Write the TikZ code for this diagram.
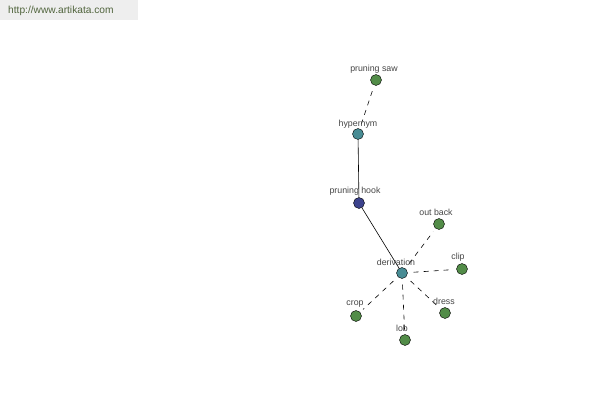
\documentclass[tikz,border=0pt]{standalone}
\usepackage{fontspec}
\setmainfont{Liberation Sans}
\definecolor{ngreen}{RGB}{82,140,72}
\definecolor{nteal}{RGB}{72,140,148}
\definecolor{nblue}{RGB}{60,66,140}
\definecolor{ltext}{RGB}{70,70,70}
\definecolor{hdrbg}{RGB}{238,238,238}
\definecolor{hdrtext}{RGB}{80,100,60}
\tikzset{
  dot/.style={circle,draw=black,line width=0.4pt,minimum size=11pt,inner sep=0pt},
  lbl/.style={font=\fontsize{8.8}{10}\selectfont,text=ltext,inner sep=0pt},
  solidlink/.style={draw=black,line width=0.6pt},
  dashlink/.style={draw=black,line width=0.6pt,dash pattern=on 5pt off 5pt,shorten <=6pt,shorten >=4pt}
}
\begin{document}
\begin{tikzpicture}[x=1pt,y=-1pt]
\useasboundingbox[fill=white] (0,0) rectangle (600,400);
\fill[hdrbg] (0,0) rectangle (138,20);
\node[font=\fontsize{10.2}{11}\selectfont,text=hdrtext,anchor=west,inner sep=0pt] (hdr) at (8,11) {http://www.artikata.com};

\node[dot,fill=ngreen] (saw) at (376,80) {};
\node[dot,fill=nteal] (hyp) at (358,134) {};
\node[dot,fill=nblue] (hook) at (359,203) {};
\node[dot,fill=nteal] (der) at (402,273) {};
\node[dot,fill=ngreen] (out) at (439,224) {};
\node[dot,fill=ngreen] (clip) at (462,269) {};
\node[dot,fill=ngreen] (crop) at (356,316) {};
\node[dot,fill=ngreen] (dress) at (445,313) {};
\node[dot,fill=ngreen] (lob) at (405,340) {};

\draw[dashlink] (saw) -- (hyp);
\draw[solidlink] (hyp) -- (hook);
\draw[solidlink] (hook) -- (der);
\draw[dashlink] (der) -- (out);
\draw[dashlink] (der) -- (clip);
\draw[dashlink] (der) -- (crop);
\draw[dashlink] (der) -- (dress);
\draw[dashlink] (der) -- (lob);

\node[lbl] (lsaw) at (374,69) {pruning saw};
\node[lbl] (lhyp) at (358,124) {hypernym};
\node[lbl] (lhook) at (355,191) {pruning hook};
\node[lbl] (lout) at (436,212) {out back};
\node[lbl] (lder) at (396,262) {derivation};
\node[lbl] (lclip) at (458,257) {clip};
\node[lbl] (lcrop) at (355,304) {crop};
\node[lbl] (ldress) at (444,301) {dress};
\node[lbl] (llob) at (402,328) {lob};
\end{tikzpicture}
\end{document}
